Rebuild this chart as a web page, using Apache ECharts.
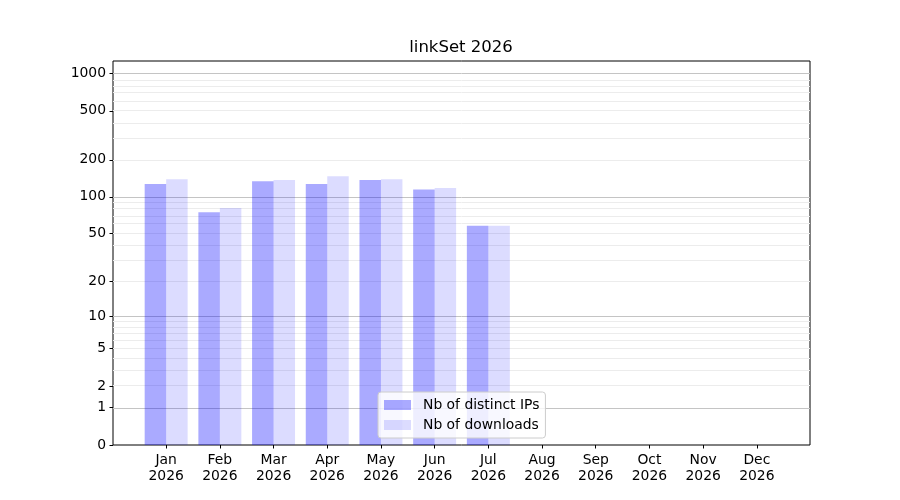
<!DOCTYPE html>
<html>
<head>
<meta charset="utf-8">
<title>linkSet 2026</title>
<script src="https://cdn.jsdelivr.net/npm/echarts@6/dist/echarts.min.js"></script>
<style>
  html, body { margin: 0; padding: 0; background: #fff; }
  #showChart { width: 900px; height: 500px; }
</style>
</head>
<body>
<div id="showChart"></div>
<script>
var months = ['Jan', 'Feb', 'Mar', 'Apr', 'May', 'Jun', 'Jul', 'Aug', 'Sep', 'Oct', 'Nov', 'Dec'];
var year = '2026';
var ipCounts = [127, 75, 134, 127, 137, 115, 58, 0, 0, 0, 0, 0];
var downloadCounts = [139, 81, 137, 147, 139, 118, 58, 0, 0, 0, 0, 0];
var yTickValues = [0, 1, 2, 5, 10, 20, 50, 100, 200, 500, 1000];
var majorGrid = [1, 10, 100, 1000];
var minorGrid = [2, 3, 4, 5, 6, 7, 8, 9, 20, 30, 40, 50, 60, 70, 80, 90, 200, 300, 400, 500, 600, 700, 800, 900];
var yTop = 1263;

// y axis is log10(1 + v)
function fwd(v) { return Math.log10(1 + v); }
function inv(t) { return Math.round(Math.pow(10, t) - 1); }

var font = 'DejaVu Sans';
var monthIdx = months.map(function (m, i) { return i; });

var gridLines = majorGrid.map(function (v) {
    return {yAxis: fwd(v), lineStyle: {color: '#c4c4c4', width: 1, type: 'solid'}};
}).concat(minorGrid.map(function (v) {
    return {yAxis: fwd(v), lineStyle: {color: '#ececec', width: 1, type: 'solid'}};
}));

var option1 = {
    animation: false,
    title: {
        text: 'linkSet ' + year,
        left: 456,
        top: 34,
        textAlign: 'center',
        textStyle: {fontFamily: font, fontSize: 16.5, fontWeight: 'normal', color: '#000'}
    },
    legend: {
        orient: 'vertical',
        left: 378,
        top: 392,
        padding: [6, 6, 6, 6],
        itemWidth: 27,
        itemHeight: 10,
        itemGap: 6,
        icon: 'rect',
        backgroundColor: 'rgba(255,255,255,0.8)',
        borderColor: '#cccccc',
        borderWidth: 1,
        borderRadius: 3,
        textStyle: {fontFamily: font, fontSize: 13.9, color: '#000', padding: [0, 0, 0, 7], lineHeight: 14}
    },
    grid: {
        left: 113,
        right: 90,
        top: 61,
        bottom: 55,
        show: true,
        borderColor: '#000',
        borderWidth: 1,
        outerBoundsMode: 'none'
    },
    xAxis: {
        type: 'value',
        min: -0.99,
        max: 11.99,
        axisLine: {show: false, onZero: false},
        splitLine: {show: false},
        axisTick: {show: true, length: 3.5, customValues: monthIdx, lineStyle: {color: '#000'}},
        axisLabel: {
            customValues: monthIdx,
            margin: 7,
            lineHeight: 16,
            fontFamily: font,
            fontSize: 13.9,
            color: '#000',
            formatter: function (v) { return months[Math.round(v)] + '\n' + year; }
        }
    },
    yAxis: {
        type: 'value',
        min: 0,
        max: fwd(yTop),
        axisLine: {show: false, onZero: false},
        splitLine: {show: false},
        axisTick: {show: true, length: 3.5, customValues: yTickValues.map(fwd), lineStyle: {color: '#000'}},
        axisLabel: {
            customValues: yTickValues.map(fwd),
            margin: 7,
            fontFamily: font,
            fontSize: 13.9,
            color: '#000',
            formatter: function (v) { return String(inv(v)); }
        }
    },
    series: [
        {
            name: 'Nb of distinct IPs',
            type: 'bar',
            barWidth: 21.5,
            barGap: '-100%',
            itemStyle: {color: 'rgba(0,0,255,0.333)'},
            data: ipCounts.map(function (v, i) { return [i - 0.2, fwd(v)]; }),
            markLine: {
                silent: true,
                symbol: 'none',
                label: {show: false},
                animation: false,
                z: 1,
                data: gridLines
            }
        },
        {
            name: 'Nb of downloads',
            type: 'bar',
            barWidth: 21.5,
            barGap: '-100%',
            itemStyle: {color: 'rgba(0,0,255,0.137)'},
            data: downloadCounts.map(function (v, i) { return [i + 0.2, fwd(v)]; })
        }
    ]
};

var chartOutChar = echarts.init(document.getElementById('showChart'));
chartOutChar.setOption(option1);
</script>
</body>
</html>
